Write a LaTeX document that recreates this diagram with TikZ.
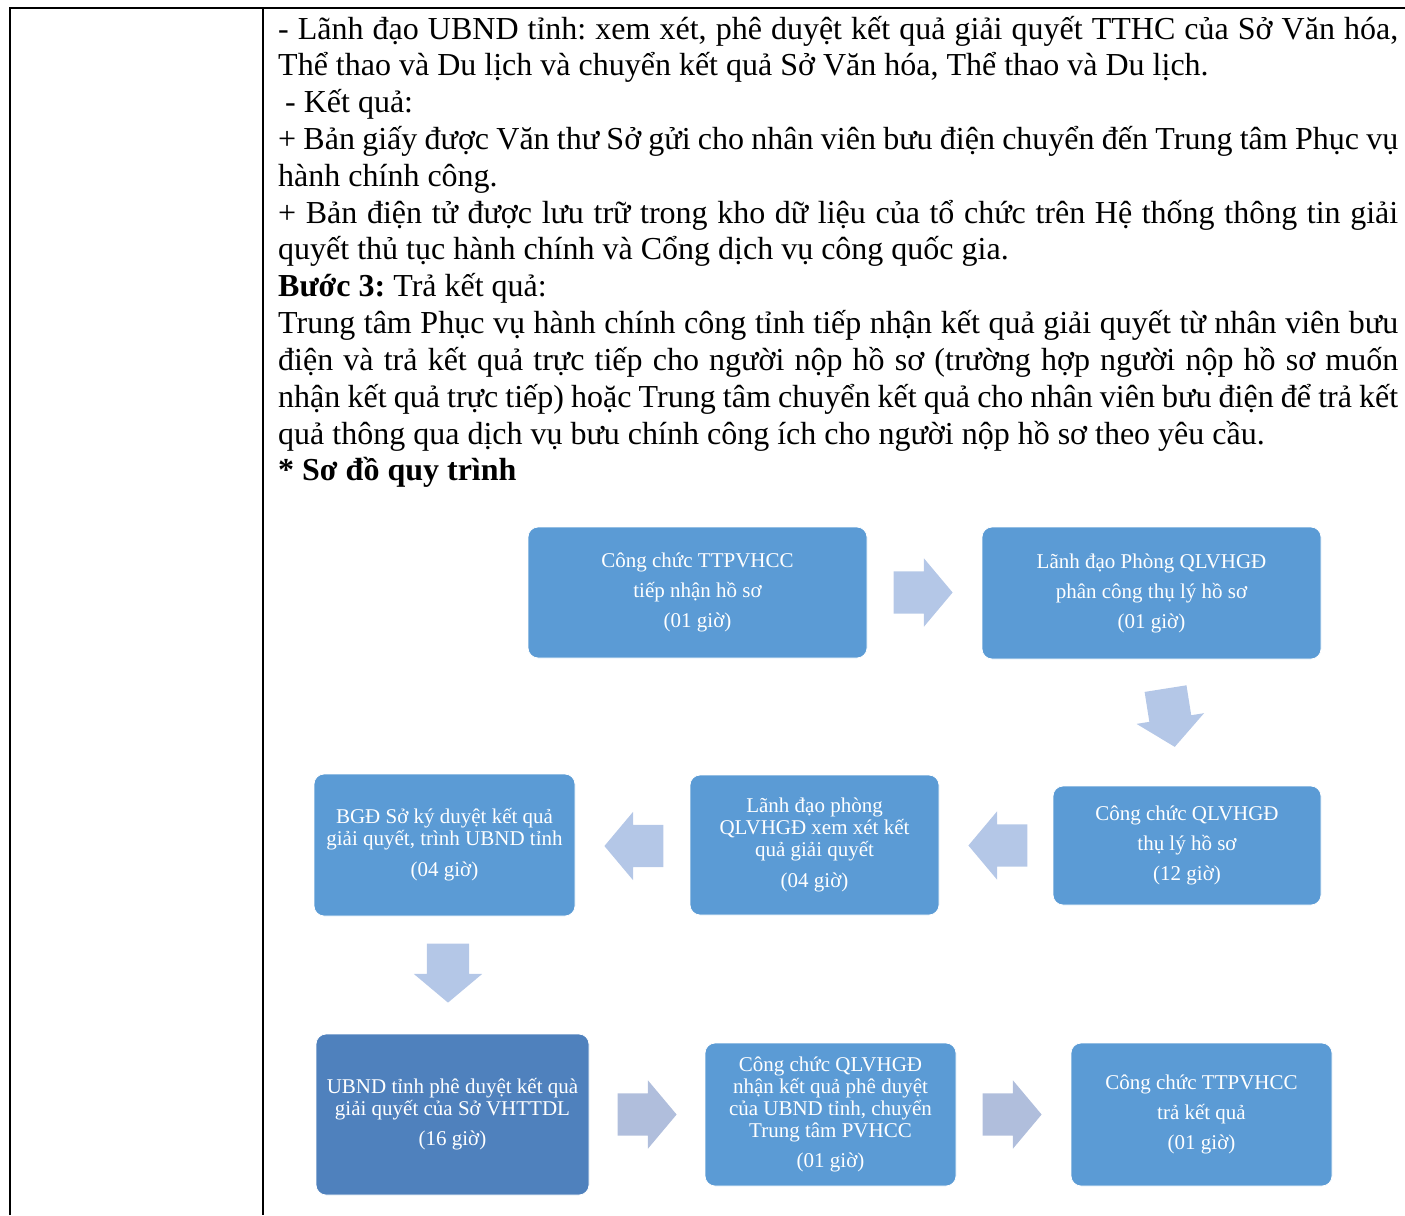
\documentclass[tikz,border=0pt]{standalone}
\usepackage{fontspec}
\setmainfont{Liberation Serif}
\usepackage{xcolor}
\usetikzlibrary{calc, shapes.arrows}
\frenchspacing

\definecolor{boxblue}{HTML}{5B9BD5}
\definecolor{boxdark}{HTML}{4F81BD}
\definecolor{arrowblue}{HTML}{B4C7E7}
\definecolor{arrowgray}{HTML}{B0BEDC}

\newcommand\bodysize{\fontsize{32}{36.8}\selectfont}
\newcommand\boxsize{\fontsize{21}{22}\selectfont}

\tikzset{
    tableline/.style={line width=2.2pt, black},
    stepbox/.style={rectangle, rounded corners=10pt, fill=boxblue, draw=white, line width=0.8pt,
        text=white, align=center, inner sep=0pt, font=\boxsize},
    flowarrow/.style={single arrow, fill=arrowblue, draw=none, inner xsep=0pt, inner ysep=21pt,
        minimum width=68pt, minimum height=59pt, single arrow head extend=13pt,
        single arrow tip angle=100, anchor=tail}
}

\begin{document}
\begin{tikzpicture}[x=1pt, y=-1pt]
    \useasboundingbox (0,0) rectangle (1405,1215);

    % Table frame
    \draw[tableline] (10,1215) -- (10,8) -- (1405,8);
    \draw[tableline] (263,8) -- (263,1215);

    % Cell text
    \node[anchor=north west, inner sep=0pt, text width=1120pt, align=justify, font=\bodysize] (stepText) at (278,9) {%
        \parindent=0pt\rule{0pt}{30pt}- Lãnh đạo UBND tỉnh: xem xét, phê duyệt kết quả giải quyết TTHC của Sở Văn hóa,\linebreak
        Thể thao và Du lịch và chuyển kết quả Sở Văn hóa, Thể thao và Du lịch.\par
        \hspace*{7pt}- Kết quả:\par
        + Bản giấy được Văn thư Sở gửi cho nhân viên bưu điện chuyển đến Trung tâm Phục vụ\linebreak
        hành chính công.\par
        + Bản điện tử được lưu trữ trong kho dữ liệu của tổ chức trên Hệ thống thông tin giải\linebreak
        quyết thủ tục hành chính và Cổng dịch vụ công quốc gia.\par
        \textbf{Bước 3:} Trả kết quả:\par
        Trung tâm Phục vụ hành chính công tỉnh tiếp nhận kết quả giải quyết từ nhân viên bưu\linebreak
        điện và trả kết quả trực tiếp cho người nộp hồ sơ (trường hợp người nộp hồ sơ muốn\linebreak
        nhận kết quả trực tiếp) hoặc Trung tâm chuyển kết quả cho nhân viên bưu điện để trả kết\linebreak
        quả thông qua dịch vụ bưu chính công ích cho người nộp hồ sơ theo yêu cầu.\par
        \textbf{* Sơ đồ quy trình}};

    % Process steps
    \node[stepbox, minimum width=339pt, minimum height=131pt] (tiepNhan) at (697.5,592.5)
        {Công chức TTPVHCC\\[8pt] tiếp nhận hồ sơ\\[8pt] (01 giờ)};
    \node[stepbox, minimum width=339pt, minimum height=132pt] (phanCong) at (1151.5,593)
        {Lãnh đạo Phòng QLVHGĐ\\[8pt] phân công thụ lý hồ sơ\\[8pt] (01 giờ)};
    \node[stepbox, minimum width=268pt, minimum height=119pt] (thuLy) at (1187,845.5)
        {Công chức QLVHGĐ\\[8pt] thụ lý hồ sơ\\[8pt] (12 giờ)};
    \node[stepbox, minimum width=249pt, minimum height=140pt] (xemXet) at (814.5,845)
        {Lãnh đạo phòng\\ QLVHGĐ xem xét kết\\ quả giải quyết\\[9pt] (04 giờ)};
    \node[stepbox, minimum width=261pt, minimum height=142pt] (kyDuyet) at (444.5,845)
        {BGĐ Sở ký duyệt kết quả\\ giải quyết, trình UBND tỉnh\\[9pt] (04 giờ)};
    \node[stepbox, fill=boxdark, minimum width=273pt, minimum height=161pt] (pheDuyet) at (452.5,1114.5)
        {UBND tỉnh phê duyệt kết quà\\ giải quyết của Sở VHTTDL\\[8pt] (16 giờ)};
    \node[stepbox, minimum width=251pt, minimum height=143pt] (nhanKQ) at (830.5,1114.5)
        {Công chức QLVHGĐ\\ nhận kết quả phê duyệt\\ của UBND tỉnh, chuyển\\ Trung tâm PVHCC\\[8pt] (01 giờ)};
    \node[stepbox, minimum width=261pt, minimum height=143pt] (traKQ) at (1201.5,1114.5)
        {Công chức TTPVHCC\\[8pt] trả kết quả\\[8pt] (01 giờ)};

    % Block arrows between steps (tail placed next to the source box)
    \node[flowarrow] (a1) at ($(tiepNhan.east)+(26,0)$) {};
    \node[flowarrow, rotate=-81] (a2) at ($(phanCong.south)+(14,29)$) {};
    \node[flowarrow, rotate=180] (a3) at ($(thuLy.west)+(-25,0)$) {};
    \node[flowarrow, rotate=180] (a4) at ($(xemXet.west)+(-26,1)$) {};
    \node[flowarrow, rotate=-90] (a5) at ($(kyDuyet.south)+(3.5,27)$) {};
    \node[flowarrow, fill=arrowgray] (a6) at ($(pheDuyet.east)+(28,0)$) {};
    \node[flowarrow, fill=arrowgray] (a7) at ($(nhanKQ.east)+(26,0)$) {};
\end{tikzpicture}
\end{document}
